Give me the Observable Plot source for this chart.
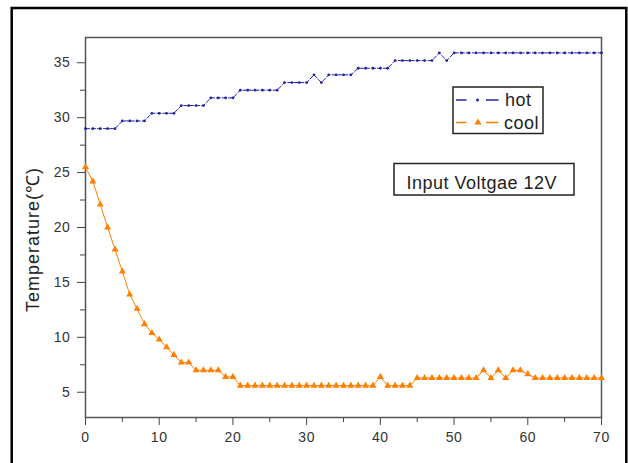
<!DOCTYPE html>
<html><head><meta charset="utf-8">
<script src="https://cdn.jsdelivr.net/npm/d3@7"></script>
<script src="https://cdn.jsdelivr.net/npm/@observablehq/plot@0.6"></script>
<style>body{margin:0;background:#fff} #chart svg{display:block}</style>
</head><body><div id="chart"></div>
<script>
const time = [0,1,2,3,4,5,6,7,8,9,10,11,12,13,14,15,16,17,18,19,20,21,22,23,24,25,26,27,28,29,30,31,32,33,34,35,36,37,38,39,40,41,42,43,44,45,46,47,48,49,50,51,52,53,54,55,56,57,58,59,60,61,62,63,64,65,66,67,68,69,70];
const hot = [29.0,29.0,29.0,29.0,29.0, 29.7,29.7,29.7,29.7, 30.4,30.4,30.4,30.4, 31.1,31.1,31.1,31.1, 31.8,31.8,31.8,31.8, 32.5,32.5,32.5,32.5,32.5,32.5, 33.2,33.2,33.2,33.2, 33.9, 33.2, 33.9,33.9,33.9,33.9, 34.5,34.5,34.5,34.5,34.5, 35.2,35.2,35.2,35.2,35.2,35.2, 35.9, 35.2, 35.9,35.9,35.9,35.9,35.9,35.9,35.9,35.9,35.9,35.9,35.9,35.9,35.9,35.9,35.9,35.9,35.9,35.9,35.9,35.9,35.9];
const cool = [25.5,24.2,22.1,20.0,18.0,16.0,13.9,12.6,11.2,10.4,9.8,9.1,8.4,7.7,7.7,7.0,7.0,7.0,7.0,6.4,6.4, 5.6,5.6,5.6,5.6,5.6,5.6,5.6,5.6,5.6,5.6,5.6,5.6,5.6,5.6,5.6,5.6,5.6,5.6,5.6, 6.4, 5.6,5.6,5.6,5.6, 6.3,6.3,6.3,6.3,6.3,6.3,6.3,6.3,6.3, 7.0,6.3,7.0,6.3,7.0,7.0,6.65, 6.3,6.3,6.3,6.3,6.3,6.3,6.3,6.3,6.3,6.3];
const seriesNames = ["hot", "cool"];
const xTicks = [0,10,20,30,40,50,60,70];
const xMinor = [5,15,25,35,45,55,65];
const yTicks = [5,10,15,20,25,30,35];
const yMinor = [7.5,12.5,17.5,22.5,27.5,32.5];
const yLabel = "Temperature(℃)";
const note = "Input Voltgae 12V";

const hotColor = "#2323a8", coolColor = "#ff8000";
const font = "'Liberation Sans', Arial, sans-serif";

const hotRows = time.map((t, i) => ({t, v: hot[i]}));
const coolRows = time.map((t, i) => ({t, v: cool[i]}));

const chart = Plot.plot({
  width: 628, height: 463,
  marginLeft: 85, marginRight: 27, marginTop: 37, marginBottom: 46,
  style: {fontFamily: font, fontSize: "14px", background: "#fff", color: "#333"},
  x: {domain: [0, 70]},
  y: {domain: [2.7, 37.3]},
  marks: [
    Plot.axisY(yTicks, {tickSize: 8, tickPadding: 7, stroke: "#444", fill: "#333", fontSize: 14, label: null}),
    Plot.axisY(yMinor, {tickSize: 5, tickFormat: () => "", stroke: "#444", label: null}),
    Plot.axisX(xTicks, {tickSize: 8, tickPadding: 7, stroke: "#444", fill: "#333", fontSize: 14, label: null}),
    Plot.axisX(xMinor, {tickSize: 5, tickFormat: () => "", stroke: "#444", label: null}),
    Plot.frame({stroke: "#555", strokeWidth: 1.5}),
    Plot.lineY(hotRows, {x: "t", y: "v", stroke: hotColor, strokeWidth: 1, strokeDasharray: "4,2"}),
    Plot.dot(hotRows, {x: "t", y: "v", r: 1.4, fill: hotColor}),
    Plot.lineY(coolRows, {x: "t", y: "v", stroke: coolColor, strokeWidth: 1}),
    Plot.dot(coolRows, {x: "t", y: "v", symbol: "triangle", r: 2.6, fill: coolColor}),
    Plot.text([yLabel], {text: d => d, frameAnchor: "left", textAnchor: "middle", dx: -52, dy: 12, rotate: -90, fontSize: 18, fill: "#222"})
  ]
});
document.getElementById("chart").appendChild(chart);

const svg = d3.select(chart);
svg.selectAll("g[aria-label=text] text").attr("letter-spacing", "1px");
svg.selectAll('g[aria-label$="tick label"]').attr("font-size", 14).style("font-size", "14px").attr("letter-spacing", "0.6px");
// legend
const lg = svg.append("g").attr("font-family", font).attr("text-anchor", "start");
lg.append("rect").attr("x", 453).attr("y", 87).attr("width", 90).attr("height", 46.5)
  .attr("fill", "#fff").attr("stroke", "#222").attr("stroke-width", 1.5);
const rows = [{name: seriesNames[0], color: hotColor, y: 100, tx: 505}, {name: seriesNames[1], color: coolColor, y: 122.5, tx: 504}];
rows.forEach((r, i) => {
  lg.append("line").attr("x1", 456).attr("x2", 466.5).attr("y1", r.y).attr("y2", r.y).attr("stroke", r.color).attr("stroke-width", 1.5);
  lg.append("line").attr("x1", 486).attr("x2", 498.5).attr("y1", r.y).attr("y2", r.y).attr("stroke", r.color).attr("stroke-width", 1.5);
  if (i === 0) lg.append("circle").attr("cx", 477.5).attr("cy", r.y).attr("r", 1.5).attr("fill", r.color);
  else lg.append("path").attr("d", d3.symbol(d3.symbolTriangle, 22)()).attr("transform", `translate(478,${r.y})`).attr("fill", r.color);
  lg.append("text").attr("x", r.tx).attr("y", r.y + 6).attr("font-size", 18).attr("fill", "#222").attr("letter-spacing", "0.5px").text(r.name);
});
// annotation box
const ag = svg.append("g").attr("font-family", font).attr("text-anchor", "start");
ag.append("rect").attr("x", 394).attr("y", 163.5).attr("width", 180).attr("height", 31.5)
  .attr("fill", "#fff").attr("stroke", "#222").attr("stroke-width", 1.5);
ag.append("text").attr("x", 406.5).attr("y", 188.5).attr("font-size", 18).attr("fill", "#222").attr("letter-spacing", "0.5px").text(note);
// outer border
svg.append("rect").attr("x", 11.7).attr("y", 8).attr("width", 614.6).attr("height", 500)
  .attr("fill", "none").attr("stroke", "#000").attr("stroke-width", 2.5);
</script>
</body></html>
